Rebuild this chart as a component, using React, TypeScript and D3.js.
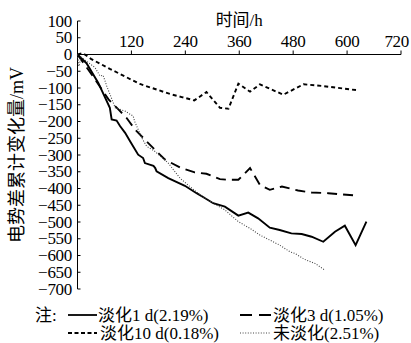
import React from "react";
import { scaleLinear, line } from "d3";

// time axis (h) and series values (mV)
const xTicks = [120, 240, 360, 480, 600, 720];
const yTicks = [100, 50, 0, -50, -100, -150, -200, -250, -300, -350, -400, -450, -500, -550, -600, -650, -700];

const t1d = [0, 20, 46, 72, 76, 87, 95, 106, 117, 135, 146, 150, 169, 173, 176, 202, 239, 265, 284, 302, 328, 358, 380, 402, 428, 450, 476, 499, 521, 547, 573, 595, 619, 643];
const v1d = [0, -26, -84, -159, -194, -197, -214, -234, -259, -299, -309, -324, -332, -339, -349, -369, -392, -414, -429, -444, -454, -481, -472, -489, -517, -524, -534, -536, -544, -559, -529, -511, -569, -499];

const t3d = [0, 39, 69, 91, 109, 128, 150, 172, 195, 228, 261, 287, 317, 336, 358, 384, 406, 428, 455, 491, 521, 558, 620];
const v3d = [0, -74, -134, -164, -189, -224, -254, -284, -314, -337, -352, -356, -372, -374, -374, -339, -389, -404, -394, -406, -412, -414, -421];

const t10d = [0, 12, 30, 72, 139, 206, 232, 260, 287, 317, 336, 358, 384, 406, 458, 503, 545, 625];
const v10d = [0, 4, -13, -43, -88, -118, -127, -137, -112, -159, -162, -87, -111, -89, -120, -89, -94, -107];

const tRaw = [0, 3, 8, 25, 39, 50, 57, 65, 84, 106, 124, 127, 143, 154, 172, 202, 228, 250, 273, 302, 328, 358, 384, 406, 428, 450, 473, 484, 506, 529, 551];
const vRaw = [0, -35, -8, -25, -39, -64, -62, -94, -159, -169, -184, -199, -249, -274, -289, -324, -369, -394, -419, -444, -464, -499, -519, -539, -554, -569, -589, -594, -612, -624, -644];

const FONT = "'Liberation Serif', 'Noto Sans CJK SC', serif";

export default function App() {
  const x = scaleLinear().domain([0, 720]).range([77.5, 401]);
  const y = scaleLinear().domain([-700, 100]).range([289, 21]);

  const mk = (ts: number[], vs: number[]) =>
    line<number>()
      .x((_, i) => x(ts[i]))
      .y((d) => y(d))(vs) || "";

  const series = [
    { d: mk(t1d, v1d), dash: "none", w: 1.9, c: "#000" },
    { d: mk(t3d, v3d), dash: "10,6", w: 1.9, c: "#000" },
    { d: mk(t10d, v10d), dash: "4,3", w: 1.9, c: "#000" },
    { d: mk(tRaw, vRaw), dash: "1,1.6", w: 1.1, c: "#444" },
  ];

  const y0 = y(0);

  return (
    <svg width={411} height={343} style={{ position: "absolute", left: 0, top: 0, background: "#fff" }}>
      <rect width={411} height={343} fill="#fff" />
      {/* y axis */}
      <line x1={x(0)} x2={x(0)} y1={y(100)} y2={y(-700)} stroke="#000" strokeWidth={1} />
      {yTicks.map((v) => (
        <g key={v}>
          <line x1={x(0)} x2={x(0) + 3} y1={y(v)} y2={y(v)} stroke="#000" strokeWidth={1} />
          <text x={72} y={y(v)} dy="0.33em" textAnchor="end" fontFamily={FONT} fontSize={17} fill="#000" letterSpacing={-0.3}>
            {v < 0 ? "\u2212" + Math.abs(v) : String(v)}
          </text>
        </g>
      ))}
      {/* x axis at y = 0 */}
      <line x1={x(0)} x2={x(720)} y1={y0} y2={y0} stroke="#000" strokeWidth={1} />
      {xTicks.map((t) => (
        <g key={t}>
          <line x1={x(t)} x2={x(t)} y1={y0} y2={y0 - 4} stroke="#000" strokeWidth={1} />
          <text
            x={t === 720 ? 409 : x(t)}
            y={47}
            textAnchor={t === 720 ? "end" : "middle"}
            fontFamily={FONT}
            fontSize={17}
            fill="#000"
            letterSpacing={-0.3}
          >
            {t}
          </text>
        </g>
      ))}
      <text x={x(360)} y={26} textAnchor="middle" fontFamily={FONT} fontSize={17} fill="#000">
        时间/h
      </text>
      <text
        transform={`translate(17,${(y(100) + y(-700)) / 2}) rotate(-90)`}
        textAnchor="middle"
        dy="0.35em"
        fontFamily={FONT}
        fontSize={18}
        fill="#000"
      >
        电势差累计变化量/mV
      </text>

      {series.map((s, i) => (
        <path key={i} d={s.d} fill="none" stroke={s.c} strokeWidth={s.w} strokeDasharray={s.dash} strokeLinejoin="miter" />
      ))}

      {/* legend */}
      <g fontFamily={FONT} fontSize={17} fill="#000">
        <text x={35} y={321}>注:</text>
        <line x1={68} x2={97} y1={315} y2={315} stroke="#000" strokeWidth={1.8} />
        <text x={98} y={321}>淡化1 d(2.19%)</text>
        <line x1={240} x2={272} y1={315} y2={315} stroke="#000" strokeWidth={1.8} strokeDasharray="12,7" />
        <text x={273} y={321}>淡化3 d(1.05%)</text>
        <line x1={68} x2={97} y1={333} y2={333} stroke="#000" strokeWidth={1.8} strokeDasharray="4,2.5" />
        <text x={100} y={339}>淡化10 d(0.18%)</text>
        <line x1={240} x2={270} y1={333} y2={333} stroke="#444" strokeWidth={1.1} strokeDasharray="1,1.6" />
        <text x={273} y={339}>未淡化(2.51%)</text>
      </g>
    </svg>
  );
}
